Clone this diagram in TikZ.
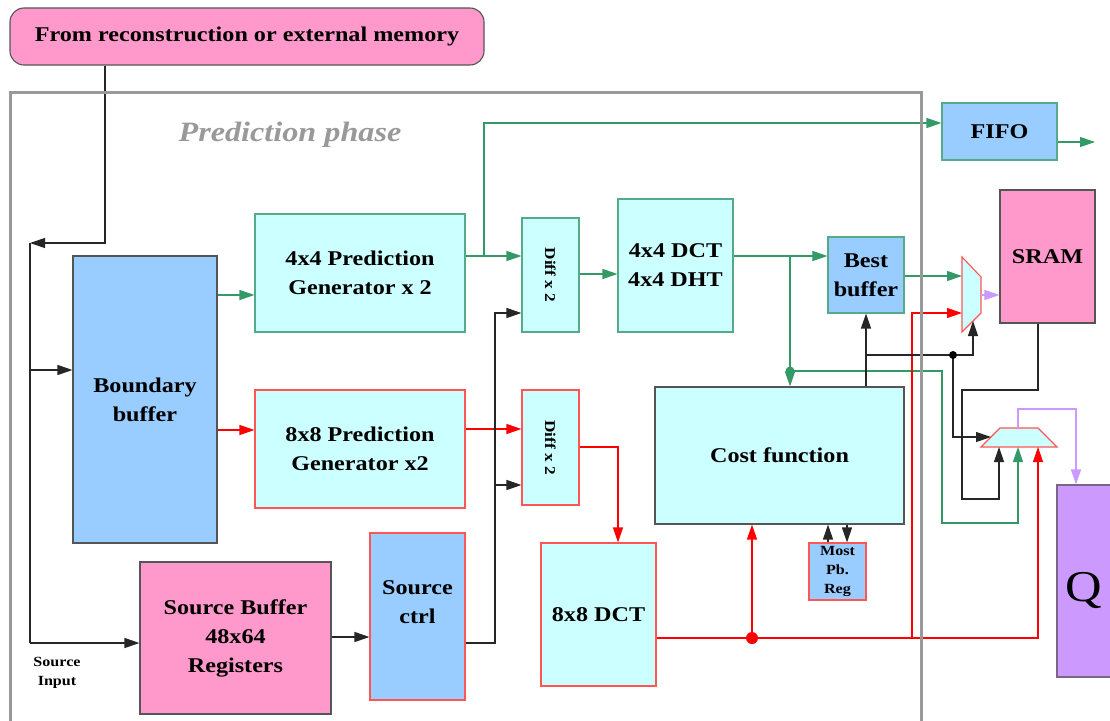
\documentclass[tikz,border=0pt]{standalone}
\usepackage{fontspec}
\setmainfont{Liberation Serif}[FakeStretch=1.15]
\usetikzlibrary{arrows.meta}
\definecolor{pinkf}{HTML}{FF99CC}
\definecolor{bluef}{HTML}{99CCFF}
\definecolor{cyanf}{HTML}{CCFFFF}
\definecolor{purf}{HTML}{CC99FF}
\definecolor{purb}{HTML}{776688}
\definecolor{grnl}{HTML}{339966}
\definecolor{grnb}{HTML}{55AA88}
\definecolor{redl}{HTML}{FF0000}
\definecolor{redb}{HTML}{FF5555}
\definecolor{darkb}{HTML}{555555}
\definecolor{framec}{HTML}{999999}
\begin{document}
\begin{tikzpicture}[x=1pt,y=-1pt,
 box/.style={draw, line width=1.1pt, inner sep=0pt, align=center, font=\bfseries\fontsize{21}{29}\selectfont},
 tip/.style={-{Triangle[length=15pt,width=10pt]}},
 grn/.style={draw=grnl, line width=1.2pt},
 rd/.style={draw=redl, line width=1.2pt},
 blk/.style={draw=black!85, line width=1.2pt},
 pur/.style={draw=purf, line width=1.2pt},
 small/.style={font=\bfseries\fontsize{14}{19}\selectfont, align=center, inner sep=0pt}
]
\useasboundingbox (0,0) rectangle (1110,720);
\fill[white] (0,0) rectangle (1110,720);

% nodes
\node[box, fill=pinkf, draw=darkb, rounded corners=14pt, minimum width=474pt, minimum height=57pt] (pill) at (247,36.5) {From reconstruction or external memory};
\node[text=framec, font=\bfseries\itshape\fontsize{28}{32}\selectfont] (phase) at (290,135) {Prediction phase};
\node[box, fill=bluef, draw=darkb, minimum width=144pt, minimum height=287pt] (boundary) at (145,399.5) {Boundary\\buffer};
\node[box, fill=cyanf, draw=grnb, minimum width=210pt, minimum height=118pt] (pred4) at (360,273) {4x4 Prediction\\Generator x 2};
\node[box, fill=cyanf, draw=redb, minimum width=210pt, minimum height=118pt] (pred8) at (360,449) {8x8 Prediction\\Generator x2};
\node[box, fill=cyanf, draw=grnb, minimum width=57pt, minimum height=114pt, font=\bfseries\fontsize{15}{17}\selectfont] (diff1) at (550.5,275) {\rotatebox{-90}{Diff x 2}};
\node[box, fill=cyanf, draw=redb, minimum width=57pt, minimum height=115pt, font=\bfseries\fontsize{15}{17}\selectfont] (diff2) at (550.5,447.5) {\rotatebox{-90}{Diff x 2}};
\node[box, fill=cyanf, draw=grnb, minimum width=115pt, minimum height=133pt] (dct4) at (675.5,265.5) {4x4 DCT\\4x4 DHT};
\node[box, fill=bluef, draw=grnb, minimum width=76pt, minimum height=76pt] (best) at (866,275) {Best\\buffer};
\node[box, fill=bluef, draw=grnb, minimum width=115pt, minimum height=57pt] (fifo) at (999.5,131.5) {FIFO};
\node[box, fill=pinkf, draw=darkb, minimum width=95pt, minimum height=133pt] (sram) at (1047.5,256.5) {SRAM};
\node[box, fill=cyanf, draw=darkb, minimum width=249pt, minimum height=137pt] (cost) at (779.5,455.5) {Cost function};
\node[box, fill=bluef, draw=redb, minimum width=57pt, minimum height=57pt, font=\bfseries\fontsize{14}{19}\selectfont] (most) at (837.5,571.5) {Most\\Pb.\\Reg};
\node[box, fill=cyanf, draw=redb, minimum width=115pt, minimum height=143pt] (dct8) at (598.5,614.5) {8x8 DCT};
\node[box, fill=pinkf, draw=darkb, minimum width=191pt, minimum height=152pt] (srcbuf) at (235.5,638) {Source Buffer\\48x64\\Registers};
\node[box, fill=bluef, draw=redb, minimum width=95pt, minimum height=167pt] (srcctrl) at (417.5,616.5) {};
\node[box, draw=none] (srcctrlt) at (417.5,602) {Source\\ctrl};
\node[box, fill=purf, draw=purb, minimum width=70pt, minimum height=192pt] (Q) at (1092,581) {};
\node[font=\fontsize{44}{48}\selectfont, inner sep=0pt] (Qt) at (1084,590) {Q};
\node[small] (srcin) at (57,673) {Source\\Input};

% muxes
\draw[draw=redb, fill=cyanf, line width=1.1pt] (962,257) -- (981,277) -- (981,313) -- (962,332) -- cycle;
\coordinate (m1a) at (962,276);
\coordinate (m1b) at (962,313);
\coordinate (m1o) at (981,295);
\coordinate (m1c) at (973,321);
\draw[draw=redb, fill=cyanf, line width=1.1pt] (1000,428) -- (1038,428) -- (1057,447) -- (981,447) -- cycle;
\coordinate (m2l) at (991,437);
\coordinate (m2o) at (1018,428);
\coordinate (m2k) at (999,447);
\coordinate (m2g) at (1018,447);
\coordinate (m2r) at (1038,447);

% connectors
\coordinate (lbus) at (30,243);
\draw[blk,tip] (105,0 |- pill.south) -- (105,243) -- (lbus);
\draw[blk] (lbus) -- (30,643);
\draw[blk,tip] (30,370) -- (boundary.west |- 0,370);
\draw[blk,tip] (30,643) -- (srcbuf.west |- 0,643);

\draw[grn,tip] (boundary.east |- 0,295) -- (pred4.west |- 0,295);
\draw[rd,tip] (boundary.east |- 0,430) -- (pred8.west |- 0,430);
\draw[grn,tip] (pred4.east |- 0,256) -- (diff1.west |- 0,256);
\draw[grn,tip] (484,256) -- (484,123) -- (fifo.west |- 0,123);
\draw[rd,tip] (pred8.east |- 0,429) -- (diff2.west |- 0,429);
\draw[grn,tip] (diff1.east |- 0,274) -- (dct4.west |- 0,274);
\draw[blk,tip] (srcbuf.east |- 0,637) -- (srcctrl.west |- 0,637);
\draw[blk,tip] (srcctrl.east |- 0,643) -- (495,643) -- (495,313) -- (diff1.west |- 0,313);
\draw[blk,tip] (495,485) -- (diff2.west |- 0,485);
\draw[rd,tip] (diff2.east |- 0,447) -- (618,447) -- (618,0 |- dct8.north);

\draw[grn,tip] (dct4.east |- 0,256) -- (best.west |- 0,256);
\draw[grn,tip] (790,256) -- (790,0 |- cost.north);
\draw[grn,tip] (790,371) -- (942,371) -- (942,523) -- (1018,523) -- (m2g);
\fill[grnl] (790,371) circle (4.5pt);
\draw[grn,tip] (best.east |- 0,276) -- (m1a);
\draw[pur,tip] (m1o) -- (sram.west |- m1o);

\draw[rd,tip] (dct8.east |- 0,638) -- (1038,638) -- (m2r);
\draw[rd,tip] (752,638) -- (752,0 |- cost.south);
\fill[redl] (752,638) circle (6pt);
\draw[rd,tip] (912,638) -- (912,313) -- (m1b);

\draw[blk,tip] (866,0 |- cost.north) -- (best.south);
\draw[blk,tip] (866,355) -- (973,355) -- (m1c);
\draw[blk,tip] (953,355) -- (953,437) -- (m2l);
\fill (953,355) circle (4pt);
\draw[blk,tip] (1038,0 |- sram.south) -- (1038,390) -- (962,390) -- (962,499) -- (999,499) -- (m2k);
\draw[pur,tip] (m2o) -- (1018,409) -- (1076,409) -- (1076,0 |- Q.north);
\draw[blk,tip] (828,0 |- most.north) -- (828,0 |- cost.south);
\draw[blk,tip] (847,0 |- cost.south) -- (847,0 |- most.north);
\draw[grn,tip] (fifo.east |- 0,142) -- (1095,142);

% frame
\draw[framec, line width=3pt] (10,730) -- (10,92) -- (921,92) -- (921,730);
\end{tikzpicture}
\end{document}
